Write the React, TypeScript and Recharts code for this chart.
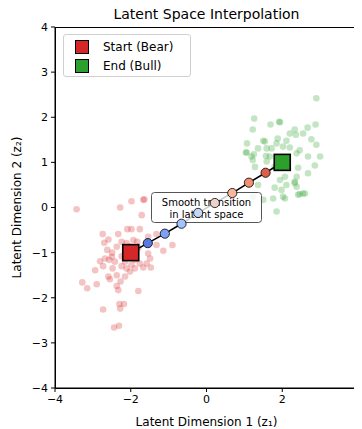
import {
  ScatterChart,
  Scatter,
  XAxis,
  YAxis,
} from 'recharts';

const FONT = '"DejaVu Sans", sans-serif';

// bear regime cloud (red)
const bearX = [
  -3.43, -2.28, -1.98, -1.64, -1.71, -1.98, -2.09, -1.76, -2.33, -2.74, -2.59, -2.7, -2.11, -1.83,
  -1.54, -1.32, -1.14, -0.9, -1.49, -1.54, -2.62, -2.49, -2.81, -2.73, -2.94, -2.57, -2.48, -2.24,
  -2.11, -1.89, -1.67, -1.47, -2.37, -2.55, -2.27, -3.28, -3.15, -2.9, -2.37, -2.33, -1.8, -2.3,
  -2.18, -2.28, -2.73, -2.44, -2.31, -1.93, -2.02, -1.8, -1.89, -1.76, -1.98, -2.15, -2.42, -2.24,
  -2.37, -2.24, -1.58, -2.59, -2.15, -2.02, -2.5, -2.68, -1.32, -1.67,
];
const bearY = [
  -0.04, 0.0, 0.14, 0.18, -0.17, -0.48, -0.48, -0.48, -0.59, -0.59, -0.71, -0.78, -0.79, -0.76,
  -0.65, -0.59, -0.96, -0.83, -1.13, -1.02, -0.94, -1.0, -1.19, -1.3, -1.39, -1.16, -1.35, -1.3,
  -1.35, -1.35, -1.33, -1.33, -1.5, -1.59, -1.64, -1.66, -1.79, -1.7, -1.74, -1.83, -1.85, -2.14,
  -2.14, -2.24, -2.26, -2.66, -2.62, -0.72, -0.87, -0.9, -1.16, -1.24, -1.27, -1.2, -1.2, -1.08,
  -0.87, -0.76, -1.24, -1.53, -1.53, -1.42, -1.09, -1.13, -0.83, 0.17,
];

// bull regime cloud (green)
const bullX = [
  2.9, 1.26, 1.92, 1.69, 2.88, 2.67, 2.33, 2.2, 2.36, 2.55, 2.77, 1.88, 1.5, 2.11, 1.85, 2.9, 1.36,
  1.59, 2.02, 2.2, 2.46, 2.38, 1.06, 1.19, 1.67, 2.68, 3.0, 2.02, 1.59, 2.86, 2.42, 1.28, 1.8, 2.68,
  2.38, 2.07, 1.94, 2.33, 2.11, 2.38, 1.36, 1.8, 2.6, 2.46, 2.33, 1.98, 2.02, 2.42, 2.55, 1.5, 1.76,
  1.85, 1.23, 2.07, 1.22, 1.94, 1.07, 1.04, 1.25, 1.22, 1.54, 1.72, 1.57,
];
const bullY = [
  2.42, 1.97, 1.9, 1.84, 1.84, 1.77, 1.73, 1.64, 1.61, 1.64, 1.51, 1.53, 1.48, 1.48, 1.42, 1.39,
  1.31, 1.31, 1.35, 1.33, 1.27, 1.2, 1.22, 1.13, 1.13, 1.13, 1.13, 1.05, 1.02, 0.93, 0.88, 0.9, 0.9,
  0.76, 0.68, 0.68, 0.61, 0.54, 0.5, 0.46, 0.5, 0.44, 0.31, 0.3, 0.57, 0.39, 0.24, 0.28, 0.31, 0.17,
  0.2, -0.09, 0.24, 0.2, 1.73, 1.89, 1.42, 1.22, 1.18, 1.05, 1.46, 1.31, 1.14,
];

// interpolation path, start -> end
const pathX = [-2, -1.55, -1.1, -0.66, -0.22, 0.22, 0.68, 1.12, 1.56, 2];
const pathY = [-1, -0.79, -0.58, -0.36, -0.12, 0.1, 0.32, 0.55, 0.77, 1];
const pathColors = [
  '#d62728', '#5a78e4', '#7ea1f8', '#a3c2fe', '#c6d6f2',
  '#ecd3c5', '#f6b79b', '#f08f71', '#dc5e4b', '#2ca02c',
];

const start = { name: 'Start (Bear)', x: -2, y: -1, color: '#d62728' };
const end = { name: 'End (Bull)', x: 2, y: 1, color: '#2ca02c' };

const ticks = [-4, -3, -2, -1, 0, 1, 2, 3, 4];
const xTicks = [-4, -2, 0, 2, 4];

const toPts = (xs: number[], ys: number[]) => xs.map((x, i) => ({ x, y: ys[i] }));
const bear = toPts(bearX, bearY);
const bull = toPts(bullX, bullY);
const path = pathX.map((x, i) => ({ x, y: pathY[i], color: pathColors[i] }));
const inner = path.slice(1, -1);

const fmt = (v: number) => String(v).replace('-', '\u2212');

const dot = (color: string) => (p: any) => (
  <circle cx={p.cx} cy={p.cy} r={3.3} fill={color} fillOpacity={0.28} />
);

const square = (color: string) => (p: any) => (
  <rect x={p.cx - 8} y={p.cy - 8} width={16} height={16} fill={color} stroke="#000" strokeWidth={1.6} />
);

function NoteBox(p: any) {
  const { cx, cy } = p;
  return (
    <g>
      <rect x={cx - 55} y={cy - 15} width={110} height={30} rx={3} fill="#fff" fillOpacity={0.8} stroke="#555" strokeWidth={1} />
      <text x={cx} y={cy - 2} textAnchor="middle" fontFamily={FONT} fontSize={10} fill="#000">
        Smooth transition
      </text>
      <text x={cx} y={cy + 10} textAnchor="middle" fontFamily={FONT} fontSize={10} fill="#000">
        in latent space
      </text>
    </g>
  );
}

function LegendBox() {
  const rows = [start, end];
  return (
    <div
      style={{
        position: 'absolute',
        left: 55,
        top: 26,
        width: 128,
        height: 43,
        border: '1px solid #d0d0d0',
        borderRadius: 3,
        background: 'rgba(255,255,255,0.8)',
        fontFamily: FONT,
        fontSize: 12,
        boxSizing: 'border-box',
        paddingTop: 2,
      }}
    >
      {rows.map((r) => (
        <div key={r.name} style={{ display: 'flex', alignItems: 'center', height: 19.5 }}>
          <span
            style={{
              display: 'inline-block',
              width: 14,
              height: 14,
              marginLeft: 11,
              background: r.color,
              border: '1.5px solid #000',
              boxSizing: 'border-box',
            }}
          />
          <span style={{ marginLeft: 14 }}>{r.name}</span>
        </div>
      ))}
    </div>
  );
}

function YLabel(props: any) {
  const { x, y, height } = props.viewBox;
  const cx = x + 9;
  const cy = y + height / 2;
  return (
    <text x={cx} y={cy} transform={`rotate(-90 ${cx} ${cy})`} textAnchor="middle" dominantBaseline="central" fontFamily={FONT} fontSize={12} fill="#000">
      Latent Dimension 2 (z₂)
    </text>
  );
}

function XLabel(props: any) {
  const { x, y, width } = props.viewBox;
  return (
    <text x={x + width / 2} y={y + 38} textAnchor="middle" fontFamily={FONT} fontSize={12} fill="#000">
      Latent Dimension 1 (z₁)
    </text>
  );
}

export default function App() {
  const tickStyle = { fontFamily: FONT, fontSize: 11, fill: '#000' };
  return (
    <div style={{ position: 'relative', width: 354, height: 421 }}>
      <div
        style={{
          position: 'absolute',
          left: 47,
          width: 303,
          top: -2,
          textAlign: 'center',
          fontFamily: FONT,
          fontSize: 14,
        }}
      >
        Latent Space Interpolation
      </div>
      <ScatterChart width={354} height={421} margin={{ top: 19, right: 4, bottom: 0, left: 0 }}>
        <XAxis
          type="number"
          dataKey="x"
          domain={[-4, 4]}
          ticks={xTicks}
          interval={0}
          tickFormatter={fmt}
          allowDataOverflow
          height={41}
          tickSize={4}
          tickMargin={3}
          tick={tickStyle}
          stroke="#000"
          label={<XLabel />}
        />
        <YAxis
          type="number"
          dataKey="y"
          domain={[-4, 4]}
          ticks={ticks}
          interval={0}
          tickFormatter={fmt}
          allowDataOverflow
          width={47}
          tickSize={4}
          tickMargin={3}
          tick={tickStyle}
          stroke="#000"
          label={<YLabel />}
        />
        <Scatter data={bear} shape={dot('#d62728')} isAnimationActive={false} />
        <Scatter data={bull} shape={dot('#2ca02c')} isAnimationActive={false} />
        <Scatter
          data={path}
          line={{ stroke: '#000', strokeWidth: 1.6 }}
          shape={() => <g />}
          isAnimationActive={false}
        />
        <Scatter data={[{ x: 0, y: 0 }]} shape={NoteBox} isAnimationActive={false} />
        <Scatter
          data={inner}
          shape={(p: any) => (
            <circle cx={p.cx} cy={p.cy} r={4.6} fill={p.payload.color} stroke="#000" strokeWidth={0.8} />
          )}
          isAnimationActive={false}
        />
        <Scatter name={start.name} data={[start]} shape={square(start.color)} isAnimationActive={false} />
        <Scatter name={end.name} data={[end]} shape={square(end.color)} isAnimationActive={false} />
      </ScatterChart>
      {/* matplotlib-style frame round the plot area */}
      <div
        style={{
          position: 'absolute',
          left: 47,
          top: 19,
          width: 304,
          height: 362,
          border: '1px solid #000',
          boxSizing: 'border-box',
          pointerEvents: 'none',
        }}
      />
      <LegendBox />
    </div>
  );
}
